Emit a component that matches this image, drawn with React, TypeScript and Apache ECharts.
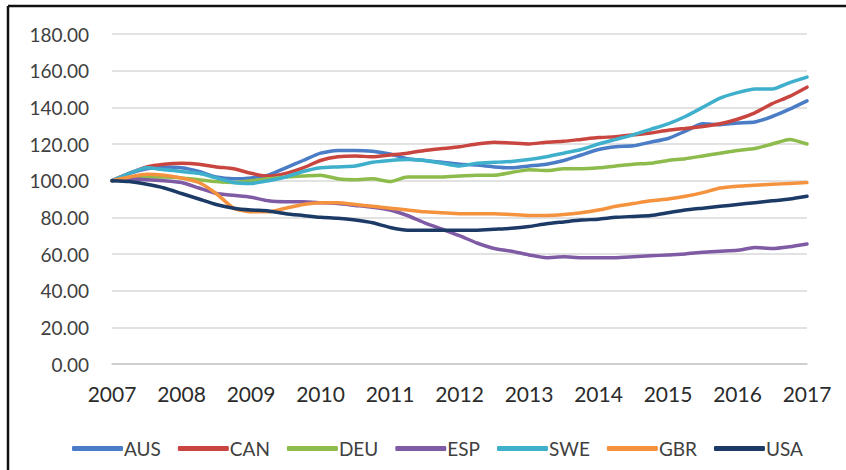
import React, { useEffect, useRef } from "react";
import * as echarts from "echarts";

// quarterly index values, 2007Q1 .. 2017Q1 (41 points)
const startYear = 2007;
const yearTicks = [2007, 2008, 2009, 2010, 2011, 2012, 2013, 2014, 2015, 2016, 2017];

const AUS = [100, 104, 106.5, 107.5, 107, 105, 102, 101, 101.5, 103, 107, 111, 115, 116.5, 116.5, 116, 114.5, 112, 111, 110, 109, 108.5, 107.5, 107, 108, 109, 111, 114, 117, 118.5, 119, 121, 123, 127, 131, 130.5, 131.5, 132, 135, 139, 143.5];
const CAN = [100, 104, 107.5, 109, 109.5, 109, 107.5, 106.5, 104, 102.5, 104, 107, 111, 113, 113.5, 113, 114, 115, 116.5, 117.5, 118.5, 120, 121, 120.5, 120, 121, 121.5, 122.5, 123.5, 124, 125, 126, 127.5, 128.5, 129.5, 131, 133.5, 137, 142, 146, 151];
const DEU = [100, 101, 102, 102, 101.5, 100.5, 99.5, 99, 100, 101, 102, 102.5, 103, 101, 100.5, 101, 99.5, 102, 102, 102, 102.5, 103, 103, 104.5, 106, 105.5, 106.5, 106.5, 107, 108, 109, 109.5, 111, 112, 113.5, 115, 116.5, 117.5, 120, 122.5, 120];
const ESP = [100, 101, 100.5, 100, 99, 96, 93, 92, 91, 89, 88.5, 88.5, 88, 87.5, 86.5, 85.5, 84, 81, 77, 73.5, 70, 66, 63, 61.5, 59.5, 58, 58.5, 58, 58, 58, 58.5, 59, 59.5, 60, 61, 61.5, 62, 63.5, 63, 64, 65.5];
const SWE = [100, 104, 107, 106, 105, 104, 101.5, 99, 98.5, 100, 102, 105, 107, 107.5, 108, 110, 111, 111.5, 111, 109.5, 108, 109.5, 110, 110.5, 111.5, 113, 115, 117, 120, 122.5, 125, 128, 131, 135, 140, 145, 148, 150, 150, 153.5, 156.5];
const GBR = [100, 102, 103.5, 103, 101.5, 99, 93, 85, 83, 83, 85, 87, 88, 88, 87, 86, 85, 84, 83, 82.5, 82, 82, 82, 81.5, 81, 81, 81.5, 82.5, 84, 86, 87.5, 89, 90, 91.5, 93.5, 96, 97, 97.5, 98, 98.5, 99];
const USA = [100, 99.5, 98, 96, 93, 90, 87, 85, 84, 83.5, 82, 81, 80, 79.5, 78.5, 77, 74.5, 73, 73, 73, 73, 73, 73.5, 74, 75, 76.5, 77.5, 78.5, 79, 80, 80.5, 81, 82.5, 84, 85, 86, 87, 88, 89, 90, 91.5];

const seriesNames = ["AUS", "CAN", "DEU", "ESP", "SWE", "GBR", "USA"];
const seriesValues = [AUS, CAN, DEU, ESP, SWE, GBR, USA];
const colors = ["#4A7DC6", "#C9453F", "#8DBB4C", "#7F5BA6", "#3FB0CC", "#F5923E", "#1C3A66"];

const FONT = "Lato, Roboto, 'Noto Sans', sans-serif";

export default function App() {
  const ref = useRef<HTMLDivElement>(null);
  useEffect(() => {
    if (!ref.current) return;
    const chart = echarts.init(ref.current, undefined, { renderer: "svg" });
    chart.setOption({
      animation: false,
      backgroundColor: "#ffffff",
      color: colors,
      textStyle: { fontFamily: FONT },
      grid: { left: 112, right: 39, top: 34, bottom: 106, containLabel: false },
      xAxis: {
        type: "value",
        min: yearTicks[0],
        max: yearTicks[yearTicks.length - 1],
        interval: 1,
        axisLine: { show: true, lineStyle: { color: "#c8c8c8", width: 1.5 } },
        axisTick: { show: false },
        splitLine: { show: false },
        axisLabel: {
          color: "#2b2b2b",
          fontSize: 21,
          fontFamily: FONT,
          margin: 19,
          formatter: (v: number) => String(v),
        },
      },
      yAxis: {
        type: "value",
        min: 0,
        max: 180,
        interval: 20,
        axisLine: { show: false },
        axisTick: { show: false },
        splitLine: { lineStyle: { color: "#d9d9d9", width: 1.5 } },
        axisLabel: {
          color: "#404040",
          fontSize: 19,
          fontFamily: FONT,
          margin: 23,
          formatter: (v: number) => v.toFixed(2),
        },
      },
      legend: {
        data: seriesNames,
        left: 67,
        top: 434,
        icon: "roundRect",
        itemWidth: 51,
        itemHeight: 5,
        itemGap: 17,
        textStyle: { fontSize: 19, color: "#404040", fontFamily: FONT, padding: [0, 0, 0, -4] },
      },
      graphic: [
        { type: "line", shape: { x1: 8, y1: 6, x2: 846, y2: 6 }, style: { stroke: "#111", lineWidth: 2.5 } },
        { type: "line", shape: { x1: 8, y1: 6, x2: 8, y2: 470 }, style: { stroke: "#111", lineWidth: 2.5 } },
      ],
      series: seriesNames.map((name, k) => ({
        name,
        type: "line",
        showSymbol: false,
        smooth: 0.2,
        lineStyle: { width: 3.5, color: colors[k], cap: "round", join: "round" },
        itemStyle: { color: colors[k] },
        data: seriesValues[k].map((v, i) => [startYear + i / 4, v]),
      })),
    });
    return () => chart.dispose();
  }, []);
  return (
    <div
      ref={ref}
      style={{ position: "fixed", left: 0, top: 0, width: 846, height: 470 }}
    />
  );
}
